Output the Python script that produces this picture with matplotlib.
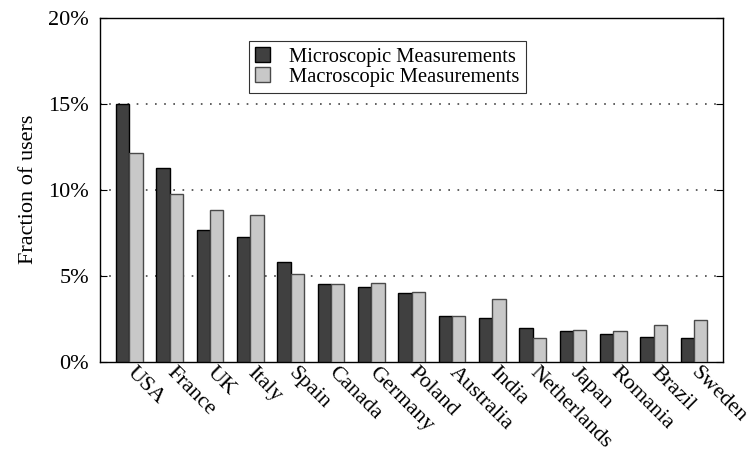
import matplotlib
matplotlib.use("Agg")
import matplotlib.pyplot as plt
import numpy as np
from matplotlib.ticker import FuncFormatter

countries = ["USA", "France", "UK", "Italy", "Spain", "Canada", "Germany", "Poland",
             "Australia", "India", "Netherlands", "Japan", "Romania", "Brazil", "Sweden"]
micro = [15.0, 11.28, 7.67, 7.26, 5.82, 4.51, 4.34, 3.97, 2.63, 2.53, 1.98, 1.79, 1.60, 1.42, 1.38]
macro = [12.12, 9.77, 8.85, 8.54, 5.10, 4.53, 4.57, 4.03, 2.63, 3.66, 1.37, 1.83, 1.77, 2.12, 2.41]
yticks = [0, 5, 10, 15, 20]

plt.rcParams['font.family'] = ['Liberation Serif', 'DejaVu Serif']

fig = plt.figure(figsize=(7.49, 4.51), dpi=100)
ax = fig.add_axes([0.1335, 0.1984, 0.8318, 0.7617])

x = np.arange(len(countries))
w = 0.33
ax.bar(x - w/2, micro, w, color='#404040', edgecolor='black', linewidth=1.0,
       label='Microscopic Measurements', zorder=3)
ax.bar(x + w/2, macro, w, color='#c8c8c8', edgecolor='#4a4a4a', linewidth=1.0,
       label='Macroscopic Measurements', zorder=3)

ax.set_xlim(-0.73, len(countries) - 1 + 0.72)
ax.set_ylim(0, 20)
ax.set_yticks(yticks)
ax.yaxis.set_major_formatter(FuncFormatter(lambda v, p: f"{int(v)}%"))
ax.tick_params(axis='y', direction='in', length=5, right=True, labelsize=16, width=0.8, pad=8)
ax.set_xticks(x)
ax.set_xticklabels(countries, rotation=-45, rotation_mode='anchor', ha='left', va='center', fontsize=16)
ax.tick_params(axis='x', length=0, pad=6)
for v in [5, 10, 15]:
    ax.axhline(v, color='#444444', linestyle=(0, (1, 4.5)), linewidth=1.2, zorder=1)
for s in ax.spines.values():
    s.set_linewidth(1.0)
ax.set_ylabel('Fraction of users', fontsize=16, labelpad=7)

leg = ax.legend(loc='upper left', bbox_to_anchor=(0.239, 0.933), fontsize=14.8, frameon=True,
                fancybox=False, edgecolor='black', handlelength=0.75, handleheight=0.75,
                borderpad=0.3, labelspacing=0.0, handletextpad=0.9, borderaxespad=0)
leg.get_frame().set_linewidth(0.8)

fig.savefig('out.png', dpi=100)
